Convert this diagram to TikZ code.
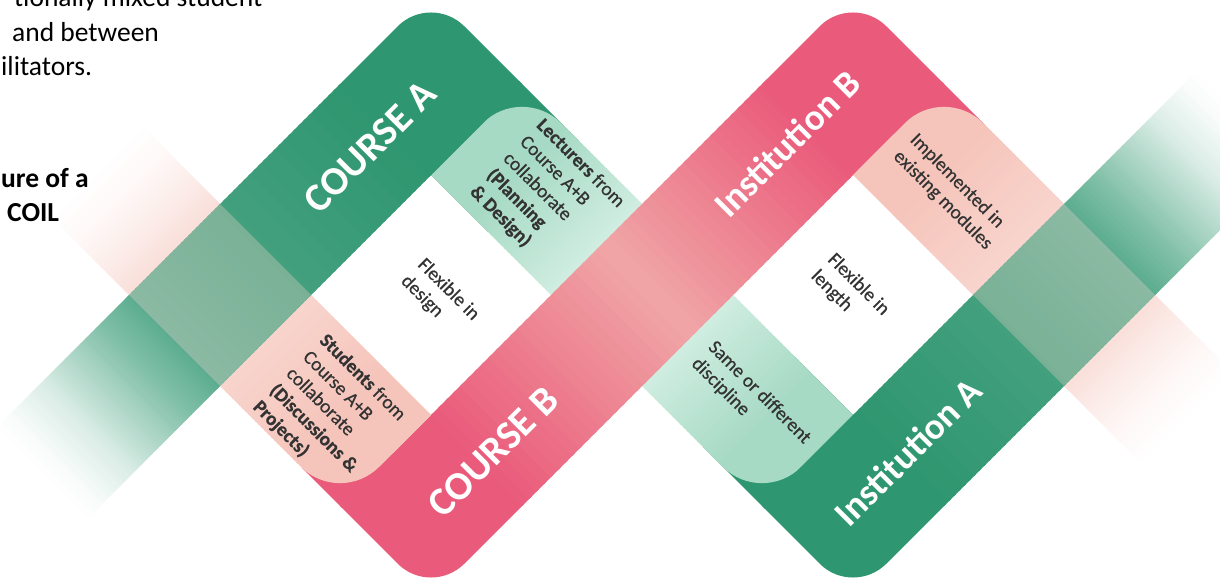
\documentclass[tikz,border=0pt]{standalone}
\usepackage{fontspec}
\setmainfont{Carlito}
\newfontfamily\lblfam{Carlito}[FakeBold=0.5]
\definecolor{G1}{HTML}{2E9670}
\definecolor{LG1}{HTML}{A6DAC4}
\definecolor{LG2}{HTML}{D2EEE2}
\definecolor{P1}{HTML}{EA5A7A}
\definecolor{P2}{HTML}{F0A6A6}
\definecolor{LP1}{HTML}{F5C4BA}
\definecolor{LPX}{HTML}{F8D8D0}
\definecolor{txt}{HTML}{333333}
% gradient slices along s (d range fixed)
\newcommand\sgrad[8]{%
  \foreach \k in {0,...,23}{%
    \pgfmathsetmacro\ua{(#1)+((#2)-(#1))*\k/24}%
    \pgfmathsetmacro\ub{(#1)+((#2)-(#1))*(\k+1.4)/24}%
    \pgfmathtruncatemacro\pc{round((#7)+((#8)-(#7))*(\k+0.5)/24)}%
    \fill[#5!\pc!#6] (\ua,#3) -- (\ub,#3) -- (\ub,#4) -- (\ua,#4) -- cycle;%
  }%
}
% gradient slices along d (s range fixed)
\newcommand\dgrad[8]{%
  \foreach \k in {0,...,23}{%
    \pgfmathsetmacro\ua{(#1)+((#2)-(#1))*\k/24}%
    \pgfmathsetmacro\ub{(#1)+((#2)-(#1))*(\k+1.4)/24}%
    \pgfmathtruncatemacro\pc{round((#7)+((#8)-(#7))*(\k+0.5)/24)}%
    \fill[#5!\pc!#6] (#3,\ua) -- (#4,\ua) -- (#4,\ub) -- (#3,\ub) -- cycle;%
  }%
}
\tikzset{
  lbl/.style={text=txt, font=\lblfam\fontsize{19.3}{23.5}\selectfont, align=left, rotate=-45, inner sep=0pt},
  big/.style={text=white, font=\fontsize{40}{48}\selectfont\bfseries, rotate=45, inner sep=0pt},
  bigi/.style={text=white, font=\fontsize{37}{44}\selectfont\bfseries, rotate=45, inner sep=0pt},
  side/.style={text=black, font=\fontsize{27.5}{34}\selectfont, anchor=base west, inner sep=0pt},
  sdframe/.style={x={(0.5pt,-0.5pt)}, y={(0.5pt,0.5pt)}}
}
\begin{document}
\begin{tikzpicture}[x=1pt,y=-1pt]
\useasboundingbox (0,0) rectangle (1220,580);
\clip (0,0) rectangle (1220,580);
\fill[white] (0,0) rectangle (1220,580);
\begin{scope}[sdframe]
% 1. dark green pieces under light-green ends
\fill[G1] (600,256) -- (720,256) -- (720,438) -- (600,438) -- cycle;
\fill[G1] (1150,256) -- (1274,256) -- (1274,438) -- (1150,438) -- cycle;
% 2. light green band (Lecturers / Same)
\fill[LG1] (606,256) -- (606,360) .. controls (606,403.1) and (640.9,438) .. (684,438) -- (694,438) -- (694,256) -- cycle;
\sgrad{690}{856}{256}{438}{LG1}{LG2}{100}{0}
\sgrad{1018}{1188}{256}{438}{LG1}{LG2}{0}{100}
\fill[LG1] (1184,438) -- (1268,438) -- (1268,334) .. controls (1268,290.9) and (1233.1,256) .. (1190,256) -- (1184,256) -- cycle;
% 3. dark pink band (COURSE B / Institution B)
\fill[P1] (770,-166) -- (850,-166) -- (850,-60) -- (770,-60) -- cycle;
\fill[P1] (846,20) -- (846,-166) -- (961.5,-166) .. controls (998.2,-166) and (1028,-136.2) .. (1028,-99.5) -- (1028,20) -- cycle;
\dgrad{16}{360}{846}{1028}{P1}{P2}{100}{0}
\dgrad{360}{682}{846}{1028}{P1}{P2}{0}{100}
\fill[P1] (1028,678) -- (846,678) -- (846,793.5) .. controls (846,830.2) and (875.8,860) .. (912.5,860) -- (1028,860) -- cycle;
\fill[P1] (1024,760) -- (1110,760) -- (1110,860) -- (1024,860) -- cycle;
% 4. light pink bands (Students / Implemented)
\fill[LP1] (758,16) -- (846,16) -- (846,-88) .. controls (846,-131.1) and (811.1,-166) .. (768,-166) -- (758,-166) -- cycle;
\sgrad{762}{606}{-166}{16}{LP1}{white}{100}{72}
\sgrad{606}{424}{-166}{16}{LP1}{white}{72}{55}
\sgrad{424}{370}{-166}{16}{LP1}{white}{55}{30}
\sgrad{370}{320}{-166}{16}{LP1}{white}{30}{12}
\sgrad{320}{270}{-166}{16}{LP1}{white}{12}{0}
\fill[LP1] (1112,678) -- (1028,678) -- (1028,782) .. controls (1028,825.1) and (1062.9,860) .. (1106,860) -- (1112,860) -- cycle;
\sgrad{1108}{1268}{678}{860}{LP1}{white}{100}{72}
\sgrad{1268}{1450}{678}{860}{LP1}{white}{72}{55}
\sgrad{1450}{1504}{678}{860}{LP1}{white}{55}{30}
\sgrad{1504}{1554}{678}{860}{LP1}{white}{30}{12}
\sgrad{1554}{1604}{678}{860}{LP1}{white}{12}{0}
% 5. dark green bands (COURSE A / Institution A)
\fill[G1] (606,252) -- (424,252) -- (424,371.5) .. controls (424,408.2) and (453.8,438) .. (490.5,438) -- (606,438) -- cycle;
\dgrad{256}{16}{424}{606}{G1}{white}{100}{90}
\dgrad{16}{-166}{424}{606}{G1}{white}{90}{78}
\dgrad{-166}{-220}{424}{606}{G1}{white}{78}{62}
\dgrad{-220}{-280}{424}{606}{G1}{white}{62}{40}
\dgrad{-280}{-340}{424}{606}{G1}{white}{40}{18}
\dgrad{-340}{-405}{424}{606}{G1}{white}{18}{3}
\dgrad{-405}{-435}{424}{606}{G1}{white}{3}{0}
\fill[G1] (1268,442) -- (1268,256) -- (1383.5,256) .. controls (1420.2,256) and (1450,285.8) .. (1450,322.5) -- (1450,442) -- cycle;
\dgrad{438}{678}{1268}{1450}{G1}{white}{100}{90}
\dgrad{678}{860}{1268}{1450}{G1}{white}{90}{78}
\dgrad{860}{914}{1268}{1450}{G1}{white}{78}{62}
\dgrad{914}{974}{1268}{1450}{G1}{white}{62}{40}
\dgrad{974}{1034}{1268}{1450}{G1}{white}{40}{18}
\dgrad{1034}{1099}{1268}{1450}{G1}{white}{18}{3}
\dgrad{1099}{1129}{1268}{1450}{G1}{white}{3}{0}
% 6. pink showing through the green at the crossings
\fill[LPX, fill opacity=0.3] (424,-166) -- (606,-166) -- (606,16) -- (424,16) -- cycle;
\fill[LPX, fill opacity=0.3] (1268,678) -- (1450,678) -- (1450,860) -- (1268,860) -- cycle;
\end{scope}
% band titles
\node[big] (ca) at (370,147) {COURSE A};
\node[big] (cb) at (493,452) {COURSE B};
\node[bigi] (ib) at (787,144) {Institution B};
\node[bigi] (ia) at (908,452) {Institution A};
% labels
\node[lbl] (lec) at (547,197) {\textbf{Lecturers} from\\Course A+B\\collaborate\\\textbf{(Planning}\\\textbf{\& Design)}};
\node[lbl] (stu) at (330,412) {\textbf{Students} from\\Course A+B\\collaborate\\\textbf{(Discussions \&}\\\textbf{Projects)}};
\node[lbl] (fd) at (440,298) {Flexible in\\design};
\node[lbl] (fl) at (850,293) {Flexible in\\length};
\node[lbl] (same) at (751,401) {Same or different\\discipline};
\node[lbl] (impl) at (951,192) {Implemented in\\existing modules};
% cut-off slide text at the left
\node[side] (t1) at (14,7) {tionally mixed student};
\node[side] (t2) at (12,41.5) {and between};
\node[side] (t3) at (1,76) {ilitators.};
\node[side, font=\fontsize{27.5}{34}\selectfont\bfseries] (t4) at (1,188) {ure of a};
\node[side, font=\fontsize{27.5}{34}\selectfont\bfseries] (t5) at (7,222) {COIL};
\end{tikzpicture}
\end{document}
